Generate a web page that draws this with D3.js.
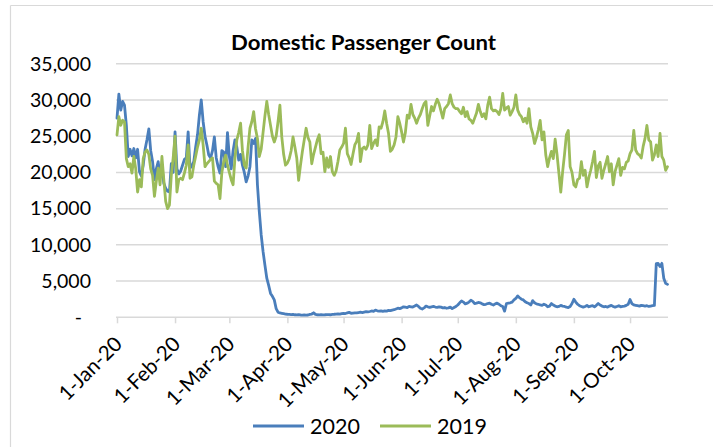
<!DOCTYPE html>
<html>
<head>
<meta charset="utf-8">
<script src="https://cdn.jsdelivr.net/npm/d3@7"></script>
<style>
  html, body { margin: 0; padding: 0; background: #fff; }
  svg { display: block; font-family: Lato, "Open Sans", sans-serif; }
</style>
</head>
<body>
<svg id="chart" width="713" height="447"></svg>
<script>
// ---- data (daily, starting 1-Jan) ----
const values2020 = [
  27500, 30800, 28600, 29800, 29300, 26500, 22200, 23200, 22300, 23300,
  22000, 23200, 20100, 19500, 21000, 23200, 24500, 26000, 23000, 21500,
  19000, 20500, 21500, 19300, 20800, 18500, 17800, 17400, 17300, 21200,
  20000, 25600, 20500, 19800, 20200, 21000, 21800, 22000, 25600, 20600,
  20900, 21500, 23500, 25200, 27900, 30000, 27000, 25000, 23800, 22400,
  22000, 23000, 24900, 22000, 20800, 19900, 23000, 22800, 20800, 25500,
  22200, 20500, 23000, 24500, 23500, 21700, 22500, 21000, 20000, 18700,
  19500, 20800, 24500, 24000, 24700, 18300, 14600, 11400, 9100, 7200,
  5400, 4400, 3300, 2900, 2400, 1200, 700, 600, 550, 500,
  450, 420, 400, 380, 400, 350, 330, 380, 320, 300,
  330, 310, 320, 400, 450, 620, 400, 350, 330, 360,
  340, 350, 380, 360, 350, 400, 420, 450, 480, 430,
  500, 550, 520, 600, 680, 560, 580, 620, 600, 650,
  700, 660, 720, 780, 740, 800, 870, 820, 1000, 900,
  850, 880, 820, 900, 860, 950, 920, 1000, 1050, 1150,
  1250, 1200, 1300, 1450, 1400, 1350, 1500, 1450, 1420, 1550,
  1700, 1500, 1250, 1150, 1300, 1550, 1450, 1380, 1450, 1500,
  1420, 1380, 1450, 1400, 1300, 1350, 1250, 1300, 1400, 1200,
  1350, 1500, 1700, 2000, 2250, 2100, 1850, 1950, 2100, 2350,
  2200, 1900, 1950, 2050, 2000, 1850, 1750, 1800, 1900, 1950,
  1800, 1700, 1850, 1950, 1800, 1600, 1500, 850, 1900, 1950,
  2000, 2100, 2400, 2600, 2950, 2700, 2500, 2400, 2150, 2000,
  1900, 1700, 2300, 2000, 1850, 1800, 1700, 1650, 1800, 1700,
  1450, 1550, 1900, 1700, 1550, 1450, 1500, 1650, 1550, 1500,
  1400, 1350, 1500, 1900, 2500, 2100, 1800, 1600, 1500, 1400,
  1500, 1650, 1450, 1550, 1600, 1450, 1650, 1900, 1700, 1550,
  1450, 1500, 1400, 1550, 1650, 1500, 1400, 1500, 1600, 1450,
  1500, 1550, 1650, 1800, 2450, 1900, 1700, 1650, 1600, 1550,
  1650, 1600, 1550, 1600, 1500, 1550, 1600, 1650, 7400, 7450,
  7000, 7450, 5400, 4700, 4550
];
const values2019 = [
  25200, 27700, 26500, 27200, 27000, 21900, 20800, 21200, 19900, 22200,
  20500, 17300, 19000, 18000, 21900, 22800, 23100, 22500, 20500, 19600,
  16700, 18800, 20600, 18300, 22200, 19000, 16000, 15000, 15500, 19600,
  22000, 25000, 17300, 19000, 19200, 19000, 19900, 21000, 23800, 19200,
  19400, 21000, 22200, 23500, 24500, 26100, 23800, 20800, 21200, 21500,
  21800, 22000, 18800, 18500, 18300, 16400, 20000, 21500, 22400, 21000,
  20000, 19000, 18300, 22000, 24500, 25500, 26800, 23000, 21000, 20600,
  23500, 26100, 27000, 28400, 26000, 24700, 22200, 23200, 25500, 27800,
  29800, 28000, 26500, 25000, 24200, 25000, 27000, 29300, 24900, 22500,
  21000, 21300, 21900, 23000, 24900, 23500, 22000, 18900, 21000, 22900,
  24500, 26100, 24800, 24200, 21200, 22500, 23500, 24500, 25200, 22600,
  22800, 20100, 22000, 20700, 22200, 20100, 19600, 20200, 21500, 23100,
  23500, 24000, 26100, 22600, 22000, 21100, 22500, 23800, 24300, 25400,
  21500, 23300, 23500, 23200, 23800, 26500, 23300, 24000, 24500, 23700,
  26300, 26100, 27000, 28500, 26800, 25400, 22900, 23200, 23800, 24900,
  27700, 26800, 25600, 24200, 25500, 27900, 27500, 29400, 28000, 27500,
  26800, 27500, 28000, 28800, 29500, 29800, 26500, 27800, 29100, 28500,
  29400, 30100, 29500, 28500, 27500, 28800, 29100, 29500, 30700, 29500,
  29000, 28800, 28800, 28400, 28100, 29000, 27700, 28400, 27400, 27200,
  26800, 27500, 28200, 29400, 28400, 27700, 28100, 27400, 29300, 30400,
  28800, 28500, 28600, 28400, 28000, 28800, 30900, 28600, 28900, 29100,
  27900, 28400, 29000, 30700, 28600, 28000, 27700, 27000, 27500, 26800,
  28800, 26300, 25400, 24000, 24800, 25900, 27200, 24500, 25600, 22400,
  20800, 22000, 22900, 21900, 24600, 22500, 19900, 17300, 20100, 22500,
  25200, 25800, 20800, 20000, 18300, 18000, 19000, 19200, 21500, 19600,
  20300, 18000, 19300, 20300, 21500, 22900, 19300, 20900, 21400, 19200,
  20300, 21200, 22200, 20100, 21200, 18300, 20100, 21000, 21900, 19600,
  20700, 20500, 21400, 21600, 22600, 23100, 25800, 23100, 22600, 22400,
  22000, 23600, 24700, 26500, 24500, 24200, 21700, 22400, 23800, 22200,
  25400, 22200, 21700, 20300, 20800
];
const seriesNames = ["2020", "2019"];
const seriesColors = ["#4A7EBB", "#9BBB59"];
const startDate = [2020, 0, 1];
const monthTickLabels = ["1-Jan-20","1-Feb-20","1-Mar-20","1-Apr-20","1-May-20","1-Jun-20","1-Jul-20","1-Aug-20","1-Sep-20","1-Oct-20"];
const yTicks = [0, 5000, 10000, 15000, 20000, 25000, 30000, 35000];
const titleText = "Domestic Passenger Count";

// ---- layout ----
const svg = d3.select("#chart");
const W = 713, H = 447;
const plot = { left: 117, right: 667.5, top: 63.8, bottom: 317.3 };
const gridColor = "#D9D9D9";

const dayDate = i => new Date(Date.UTC(startDate[0], startDate[1], startDate[2] + i));
const nDays = Math.max(values2020.length, values2019.length);

const x = d3.scaleUtc()
  .domain([dayDate(0), dayDate(nDays - 1)])
  .range([plot.left, plot.right]);
const y = d3.scaleLinear().domain([0, 35000]).range([plot.bottom, plot.top]);

// outer chart frame (top and left edges visible)
svg.append("line").attr("x1", 10.5).attr("x2", W).attr("y1", 5.5).attr("y2", 5.5)
  .attr("stroke", gridColor).attr("stroke-width", 1.2);
svg.append("line").attr("x1", 10.5).attr("x2", 10.5).attr("y1", 5.5).attr("y2", H)
  .attr("stroke", gridColor).attr("stroke-width", 1.2);

// title
svg.append("text")
  .attr("x", 363.5).attr("y", 50)
  .attr("text-anchor", "middle")
  .attr("font-weight", "bold")
  .attr("font-size", 21)
  .attr("textLength", 265)
  .attr("lengthAdjust", "spacingAndGlyphs")
  .attr("fill", "#000")
  .text(titleText);

// gridlines
svg.append("g")
  .selectAll("line")
  .data(yTicks)
  .join("line")
  .attr("x1", plot.left - 1).attr("x2", plot.right + 0.5)
  .attr("y1", d => y(d)).attr("y2", d => y(d))
  .attr("stroke", gridColor).attr("stroke-width", 1.5);

// y labels
const yAxis = d3.axisLeft(y).tickValues(yTicks).tickSize(0).tickPadding(0)
  .tickFormat(d => d === 0 ? "-" : d3.format(",")(d));
const gy = svg.append("g").attr("transform", `translate(91,0)`).call(yAxis);
gy.select(".domain").remove();
gy.selectAll("text")
  .attr("font-family", "Lato, sans-serif")
  .attr("font-size", 19.5)
  .attr("fill", "#000")
  .attr("x", d => d === 0 ? -9 : 0);

// x axis
const tickDates = monthTickLabels.map((_, m) => new Date(Date.UTC(startDate[0], m, 1)));
const xAxis = d3.axisBottom(x).tickValues(tickDates).tickSize(6).tickPadding(0)
  .tickFormat((d, i) => monthTickLabels[i]);
const gx = svg.append("g").attr("transform", `translate(0,${plot.bottom})`).call(xAxis);
gx.select(".domain").remove();
gx.selectAll(".tick line").attr("stroke", gridColor).attr("stroke-width", 1.5);
gx.selectAll("text")
  .attr("font-family", "Lato, sans-serif")
  .attr("font-size", 20.5)
  .attr("fill", "#000")
  .attr("text-anchor", "end")
  .attr("x", 0).attr("y", 0).attr("dy", 0)
  .attr("transform", "translate(6,28) rotate(-45)");

// lines
const seriesData = [values2020, values2019];
const line = d3.line()
  .x((d, i) => x(dayDate(i)))
  .y(d => y(d));
seriesData.forEach((vals, k) => {
  svg.append("path")
    .datum(vals)
    .attr("fill", "none")
    .attr("stroke", seriesColors[k])
    .attr("stroke-width", 2.8)
    .attr("stroke-linejoin", "round")
    .attr("stroke-linecap", "round")
    .attr("d", line);
});

// legend
const legend = svg.append("g").attr("transform", "translate(0,426)");
const legendItems = [{ x: 253 }, { x: 380 }];
seriesNames.forEach((name, k) => {
  const lx = legendItems[k].x;
  legend.append("line")
    .attr("x1", lx).attr("x2", lx + 51).attr("y1", 0).attr("y2", 0)
    .attr("stroke", seriesColors[k]).attr("stroke-width", 2.8);
  legend.append("text")
    .attr("x", lx + 57).attr("y", 0).attr("dy", "0.36em")
    .attr("font-size", 21.5).attr("fill", "#000")
    .text(name);
});
</script>
</body>
</html>
